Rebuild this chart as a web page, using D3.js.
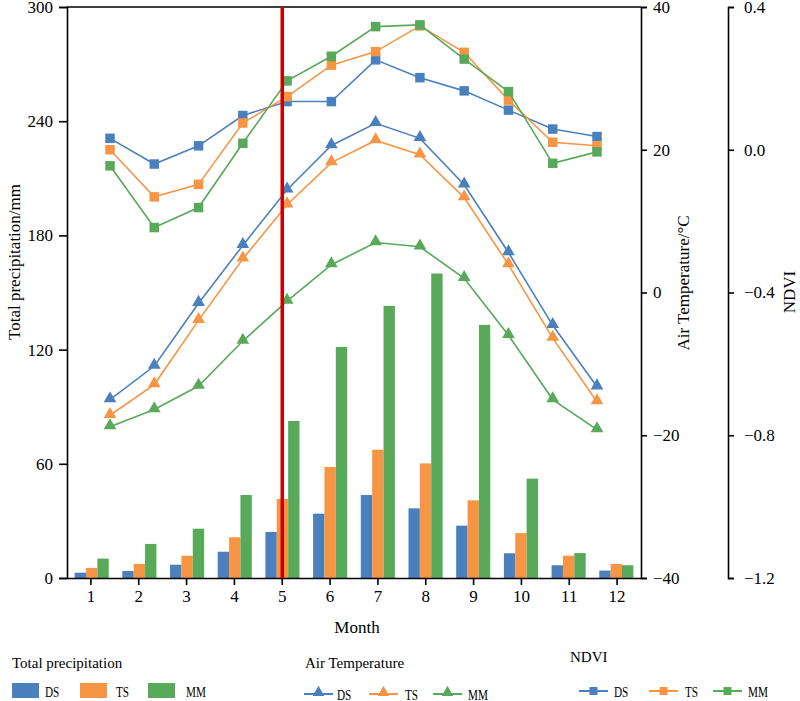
<!DOCTYPE html>
<html>
<head>
<meta charset="utf-8">
<script src="https://cdn.jsdelivr.net/npm/d3@7"></script>
<style>
  body { margin: 0; background: #fff; }
  svg { display: block; font-family: "Liberation Serif", "Times New Roman", serif; }
</style>
</head>
<body>
<svg id="chart" width="800" height="701"></svg>
<script>
// data
var months = [1, 2, 3, 4, 5, 6, 7, 8, 9, 10, 11, 12];
var seriesNames = ["DS", "TS", "MM"];

var precipDS = [2.8, 3.7, 7.0, 13.8, 24.2, 33.8, 43.6, 36.6, 27.5, 13.0, 6.7, 3.9];
var precipTS = [5.3, 7.4, 11.7, 21.4, 41.5, 58.3, 67.4, 60.2, 40.8, 23.6, 11.7, 7.4];
var precipMM = [10.2, 17.9, 25.9, 43.6, 82.5, 121.4, 143.0, 160.0, 133.0, 52.2, 13.1, 6.7];

var tempDS = [-15.0, -10.3, -1.5, 6.6, 14.4, 20.6, 23.7, 21.6, 15.1, 5.6, -4.6, -13.2];
var tempTS = [-17.2, -12.9, -3.9, 4.7, 12.3, 18.2, 21.3, 19.3, 13.3, 3.9, -6.4, -15.3];
var tempMM = [-18.8, -16.4, -13.1, -6.8, -1.2, 3.9, 7.0, 6.4, 2.0, -6.0, -15.0, -19.2];

var ndviDS = [0.032, -0.040, 0.011, 0.096, 0.135, 0.135, 0.252, 0.202, 0.165, 0.111, 0.058, 0.037];
var ndviTS = [0.000, -0.132, -0.097, 0.075, 0.149, 0.237, 0.275, 0.347, 0.273, 0.139, 0.021, 0.011];
var ndviMM = [-0.045, -0.218, -0.162, 0.018, 0.193, 0.262, 0.345, 0.350, 0.254, 0.163, -0.038, -0.006];

var precipTicks = [0, 60, 120, 180, 240, 300];
var tempTicks = [-40, -20, 0, 20, 40];
var ndviTicks = [-1.2, -0.8, -0.4, 0.0, 0.4];
var markMonth = 5;

var colors = {DS: "#4b80bf", TS: "#f79545", MM: "#58a95a"};

(function() {
  var svg = d3.select("#chart");
  var mLeft = 67, mRight = 641, mTop = 7, mBottom = 578;

  var x0 = d3.scaleBand().domain(months).range([mLeft, mRight]).paddingInner(0.285).paddingOuter(0.16);
  var x1 = d3.scaleBand().domain(seriesNames).range([0, x0.bandwidth()]);
  var xTick = d3.scaleBand().domain(months).range([mLeft, mRight]);
  var xLine = d3.scalePoint().domain(months).range([mLeft + 43, mLeft + 530]);

  var yP = d3.scaleLinear().domain([0, 300]).range([mBottom, mTop]);
  var yT = d3.scaleLinear().domain([-40, 40]).range([mBottom, mTop]);
  var yN = d3.scaleLinear().domain([-1.2, 0.4]).range([mBottom, mTop]);

  // bars
  var precip = {DS: precipDS, TS: precipTS, MM: precipMM};
  var barRows = months.map(function(m, i) {
    return {month: m, values: seriesNames.map(function(s) { return {key: s, value: precip[s][i]}; })};
  });

  svg.append("g").selectAll("g")
    .data(barRows)
    .join("g")
      .attr("transform", d => `translate(${x0(d.month)},0)`)
    .selectAll("rect")
    .data(d => d.values)
    .join("rect")
      .attr("x", d => x1(d.key))
      .attr("y", d => yP(d.value))
      .attr("width", x1.bandwidth())
      .attr("height", d => yP(0) - yP(d.value))
      .attr("fill", d => colors[d.key]);

  // lines
  function drawSeries(values, y, color, symbol, size) {
    var line = d3.line().x((d, i) => xLine(months[i])).y(d => y(d));
    svg.append("path")
      .datum(values)
      .attr("fill", "none")
      .attr("stroke", color)
      .attr("stroke-width", 1.6)
      .attr("d", line);
    svg.append("g").selectAll("path")
      .data(values)
      .join("path")
        .attr("transform", (d, i) => `translate(${xLine(months[i])},${y(d) + (symbol === d3.symbolTriangle ? -1 : 0)})`)
        .attr("d", d3.symbol().type(symbol).size(size))
        .attr("fill", color);
  }

  var temps = {DS: tempDS, TS: tempTS, MM: tempMM};
  var ndvis = {DS: ndviDS, TS: ndviTS, MM: ndviMM};
  seriesNames.forEach(function(s) { drawSeries(temps[s], yT, colors[s], d3.symbolTriangle, 70); });
  seriesNames.forEach(function(s) { drawSeries(ndvis[s], yN, colors[s], d3.symbolSquare, 90); });

  // axes
  function styleAxis(g) {
    g.selectAll("path, line").attr("stroke", "#000").attr("stroke-width", 1.6);
    g.selectAll("text").attr("fill", "#000").style("font-size", "17px").style("font-family", "Liberation Serif");
  }

  svg.append("g")
    .attr("transform", `translate(${mLeft},0)`)
    .call(d3.axisLeft(yP).tickValues(precipTicks).tickSize(8).tickSizeOuter(8).tickPadding(6))
    .call(styleAxis);

  svg.append("g")
    .attr("transform", `translate(0,${mBottom})`)
    .call(d3.axisBottom(xTick).tickSize(7).tickSizeOuter(0).tickPadding(5))
    .call(styleAxis);

  svg.append("g")
    .attr("transform", `translate(${mRight},0)`)
    .call(d3.axisRight(yT).tickValues(tempTicks).tickSize(6).tickSizeOuter(6).tickPadding(6))
    .call(styleAxis);

  svg.append("g")
    .attr("transform", `translate(728,0)`)
    .call(d3.axisRight(yN).tickValues(ndviTicks).tickFormat(d3.format(".1f")).tickSize(6).tickSizeOuter(6).tickPadding(10))
    .call(styleAxis);

  // top frame
  svg.append("line")
    .attr("x1", mLeft).attr("x2", mRight).attr("y1", mTop).attr("y2", mTop)
    .attr("stroke", "#000").attr("stroke-width", 1.6);

  // red marker line
  var redX = xTick(markMonth) + xTick.bandwidth() / 2;
  svg.append("line")
    .attr("x1", redX).attr("x2", redX)
    .attr("y1", mTop).attr("y2", mBottom)
    .attr("stroke", "#cc0000").attr("stroke-width", 3.5);

  // axis titles
  svg.append("text")
    .attr("transform", "translate(20,262) rotate(-90)")
    .attr("text-anchor", "middle")
    .style("font-size", "17px")
    .text("Total precipitation/mm");

  svg.append("text")
    .attr("transform", "translate(689,283) rotate(-90)")
    .attr("text-anchor", "middle")
    .style("font-size", "17px")
    .text("Air Temperature/\u00B0C");

  svg.append("text")
    .attr("transform", "translate(795,292) rotate(-90)")
    .attr("text-anchor", "middle")
    .style("font-size", "17px")
    .text("NDVI");

  svg.append("text")
    .attr("x", 357).attr("y", 633)
    .attr("text-anchor", "middle")
    .style("font-size", "17px")
    .text("Month");

  // legends
  var legend = svg.append("g").style("font-size", "15px");
  legend.append("text").attr("x", 12).attr("y", 668).text("Total precipitation");
  legend.append("text").attr("x", 305).attr("y", 668).text("Air Temperature");
  legend.append("text").attr("x", 570).attr("y", 662).text("NDVI");

  var barLegend = [{key: "DS", x: 12, tx: 45}, {key: "TS", x: 80, tx: 116}, {key: "MM", x: 148, tx: 186}];
  barLegend.forEach(function(d) {
    legend.append("rect").attr("x", d.x).attr("y", 683).attr("width", 27).attr("height", 15).attr("fill", colors[d.key]);
    legend.append("text").attr("x", d.tx).attr("y", 697).style("font-size", "14px")
      .attr("transform", `translate(${d.tx * 0.2},0) scale(0.8,1)`).text(d.key);
  });

  function lineLegend(items, y, symbol, size) {
    items.forEach(function(d) {
      legend.append("line").attr("x1", d.x).attr("x2", d.x + 29).attr("y1", y).attr("y2", y)
        .attr("stroke", colors[d.key]).attr("stroke-width", 2);
      legend.append("path")
        .attr("transform", `translate(${d.x + 14.5},${y + (symbol === d3.symbolTriangle ? -1.5 : 0)})`)
        .attr("d", d3.symbol().type(symbol).size(size))
        .attr("fill", colors[d.key]);
      legend.append("text").attr("x", d.tx).attr("y", y + 6).style("font-size", "14px")
        .attr("transform", `translate(${d.tx * 0.2},0) scale(0.8,1)`).text(d.key);
    });
  }
  lineLegend([{key: "DS", x: 304, tx: 337}, {key: "TS", x: 369, tx: 405}, {key: "MM", x: 433, tx: 468}], 694, d3.symbolTriangle, 60);
  lineLegend([{key: "DS", x: 579, tx: 614}, {key: "TS", x: 649, tx: 685}, {key: "MM", x: 713, tx: 748}], 691, d3.symbolSquare, 64);
})();
</script>
</body>
</html>
